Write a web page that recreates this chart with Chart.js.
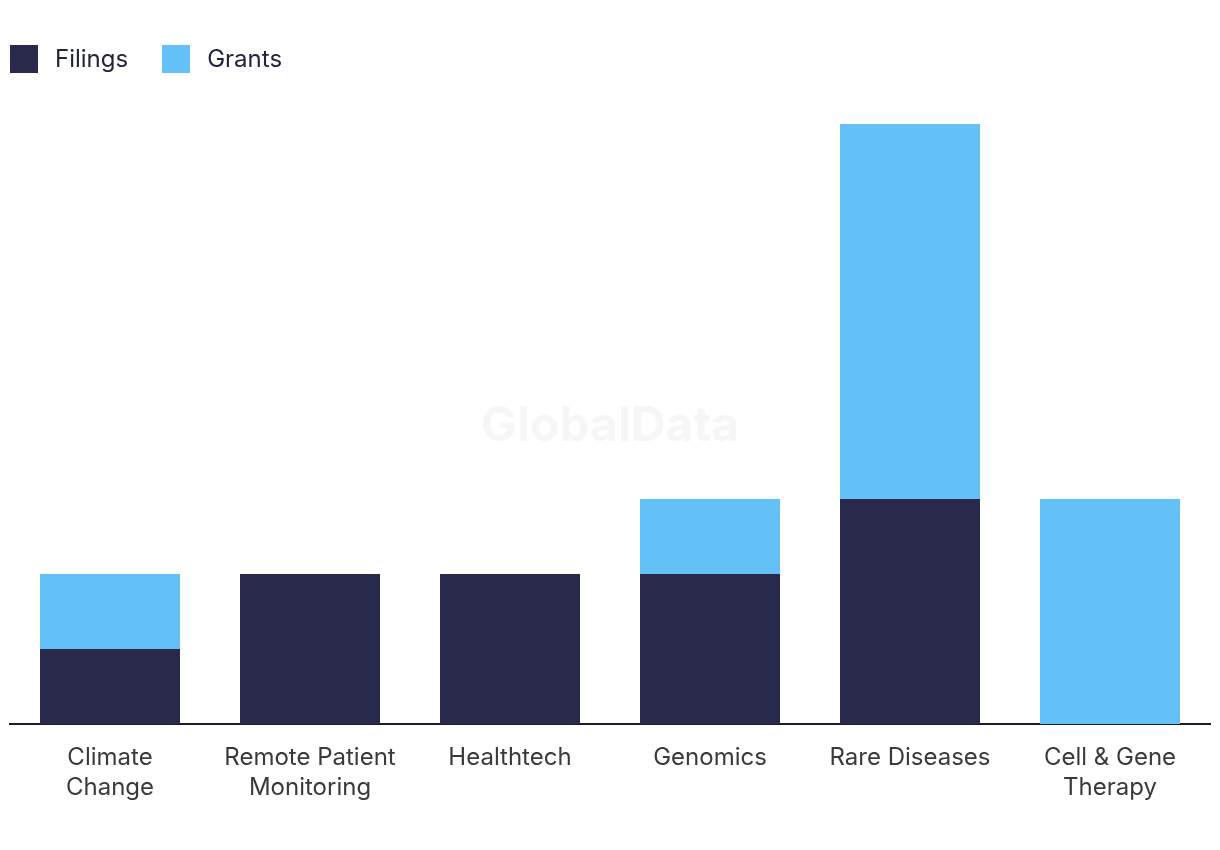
<!DOCTYPE html>
<html>
<head>
<meta charset="utf-8">
<script src="https://cdn.jsdelivr.net/npm/chart.js@4/dist/chart.umd.min.js"></script>
<style>
  html, body { margin: 0; padding: 0; background: #ffffff; }
  #wrap { position: relative; width: 1220px; height: 850px; }
  canvas { position: absolute; left: 0; top: 0; }
  .legend { position: absolute; top: 44px; left: 10px; display: flex; align-items: center; font-family: Inter, "Noto Sans", sans-serif; font-size: 24px; color: #22243a; }
  .legend .item { display: flex; align-items: center; margin-right: 34px; }
  .legend .box { width: 28px; height: 28px; margin-right: 17px; }
</style>
</head>
<body>
<div id="wrap">
  <canvas id="c" width="1220" height="850"></canvas>
  <div class="legend" id="legend"></div>
</div>
<script>
const categories = [["Climate", "Change"], ["Remote Patient", "Monitoring"], "Healthtech", "Genomics", "Rare Diseases", ["Cell & Gene", "Therapy"]];
const filings = [1, 2, 2, 2, 3, 0];
const grants = [1, 0, 0, 1, 5, 3];
const seriesNames = ["Filings", "Grants"];
const seriesColors = ["#28294b", "#63c1f8"];

const legend = document.getElementById('legend');
seriesNames.forEach((n, i) => {
  const it = document.createElement('div'); it.className = 'item';
  const b = document.createElement('div'); b.className = 'box'; b.style.background = seriesColors[i];
  const t = document.createElement('span'); t.textContent = n;
  it.appendChild(b); it.appendChild(t); legend.appendChild(it);
});

const watermark = {
  id: 'watermark',
  beforeDatasetsDraw(chart) {
    const ctx = chart.ctx;
    ctx.save();
    ctx.font = 'bold 48px Inter, "Noto Sans", sans-serif';
    ctx.fillStyle = '#f6f6f6';
    ctx.textAlign = 'center';
    ctx.textBaseline = 'middle';
    ctx.fillText('GlobalData', 610, 427);
    ctx.restore();
  }
};

new Chart(document.getElementById('c'), {
  type: 'bar',
  data: {
    labels: categories,
    datasets: [
      { label: seriesNames[0], data: filings, backgroundColor: seriesColors[0], barPercentage: 0.7, categoryPercentage: 1 },
      { label: seriesNames[1], data: grants, backgroundColor: seriesColors[1], barPercentage: 0.7, categoryPercentage: 1 }
    ]
  },
  options: {
    responsive: false,
    animation: false,
    layout: { padding: { top: 124, left: 10, right: 10, bottom: 28 } },
    plugins: { legend: { display: false }, tooltip: { enabled: false } },
    scales: {
      x: {
        stacked: true,
        grid: { display: false, drawTicks: false },
        border: { display: true, color: '#1c1c2c', width: 2 },
        ticks: { padding: 19, color: '#3a3a3a', font: { family: 'Inter, "Noto Sans", sans-serif', size: 24, lineHeight: 1.25 }, maxRotation: 0, autoSkip: false }
      },
      y: {
        stacked: true,
        display: false,
        min: 0, max: 8
      }
    }
  },
  plugins: [watermark]
});
</script>
</body>
</html>
